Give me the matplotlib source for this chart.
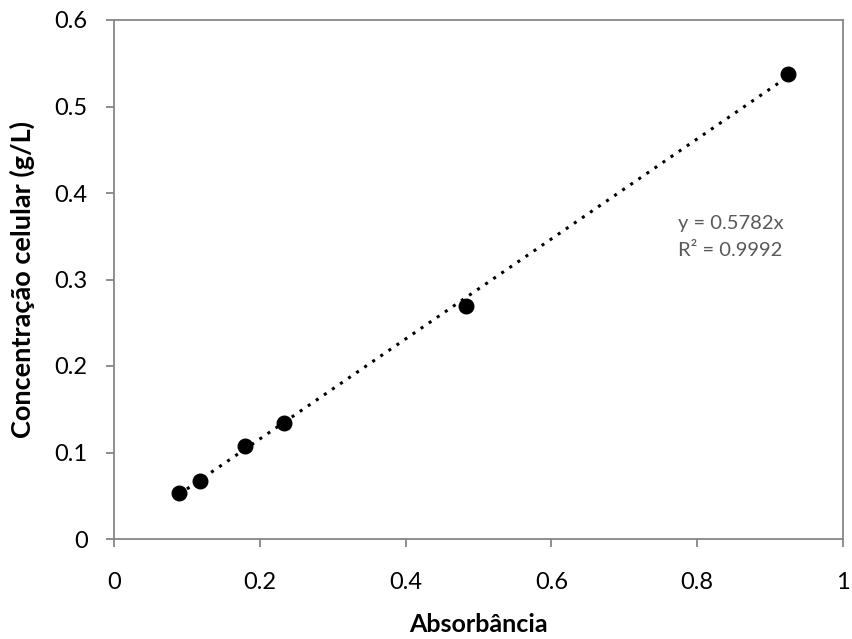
import numpy as np
import matplotlib.pyplot as plt

plt.rcParams['font.family'] = ['Lato', 'DejaVu Sans']

# calibration points: absorbance vs cell concentration
absorbancia = [0.089, 0.118, 0.180, 0.233, 0.483, 0.925]
concentracao = [0.053, 0.067, 0.107, 0.134, 0.269, 0.538]
slope = 0.5782
r2 = 0.9992

fig = plt.figure(figsize=(8.53, 6.39), dpi=100)
ax = fig.add_axes([114 / 853, 1 - 539 / 639, 729 / 853, 519 / 639])

# linear trendline through origin, drawn over the data range
xs = np.array([min(absorbancia), max(absorbancia)])
ax.plot(xs, slope * xs, color='black', linestyle=(0, (1, 2.2)), linewidth=2.2, zorder=2)
ax.scatter(absorbancia, concentracao, s=110, color='black', zorder=3)

ax.set_xlim(0, 1)
ax.set_ylim(0, 0.6)
ax.set_xticks([0, 0.2, 0.4, 0.6, 0.8, 1])
ax.set_xticklabels(['0', '0.2', '0.4', '0.6', '0.8', '1'])
ax.set_yticks([0, 0.1, 0.2, 0.3, 0.4, 0.5, 0.6])
ax.set_yticklabels(['0', '0.1', '0.2', '0.3', '0.4', '0.5', '0.6'])

for s in ax.spines.values():
    s.set_color('#868686')
    s.set_linewidth(1.3)
ax.tick_params(axis='both', direction='out', length=6, width=1.3, color='#868686',
               labelsize=17)
ax.tick_params(axis='x', pad=18)
ax.tick_params(axis='y', pad=13)

ax.set_xlabel('Absorbância', fontsize=18, fontweight='bold', labelpad=14)
ax.set_ylabel('Concentração celular (g/L)', fontsize=19.5, fontweight='bold', labelpad=14)

ax.text(0.774, 0.365, f'y = {slope}x', fontsize=14.5, color='#595959', ha='left', va='center')
ax.text(0.774, 0.334, f'R² = {r2}', fontsize=14.5, color='#595959', ha='left', va='center')

fig.savefig('out.png', dpi=100)
